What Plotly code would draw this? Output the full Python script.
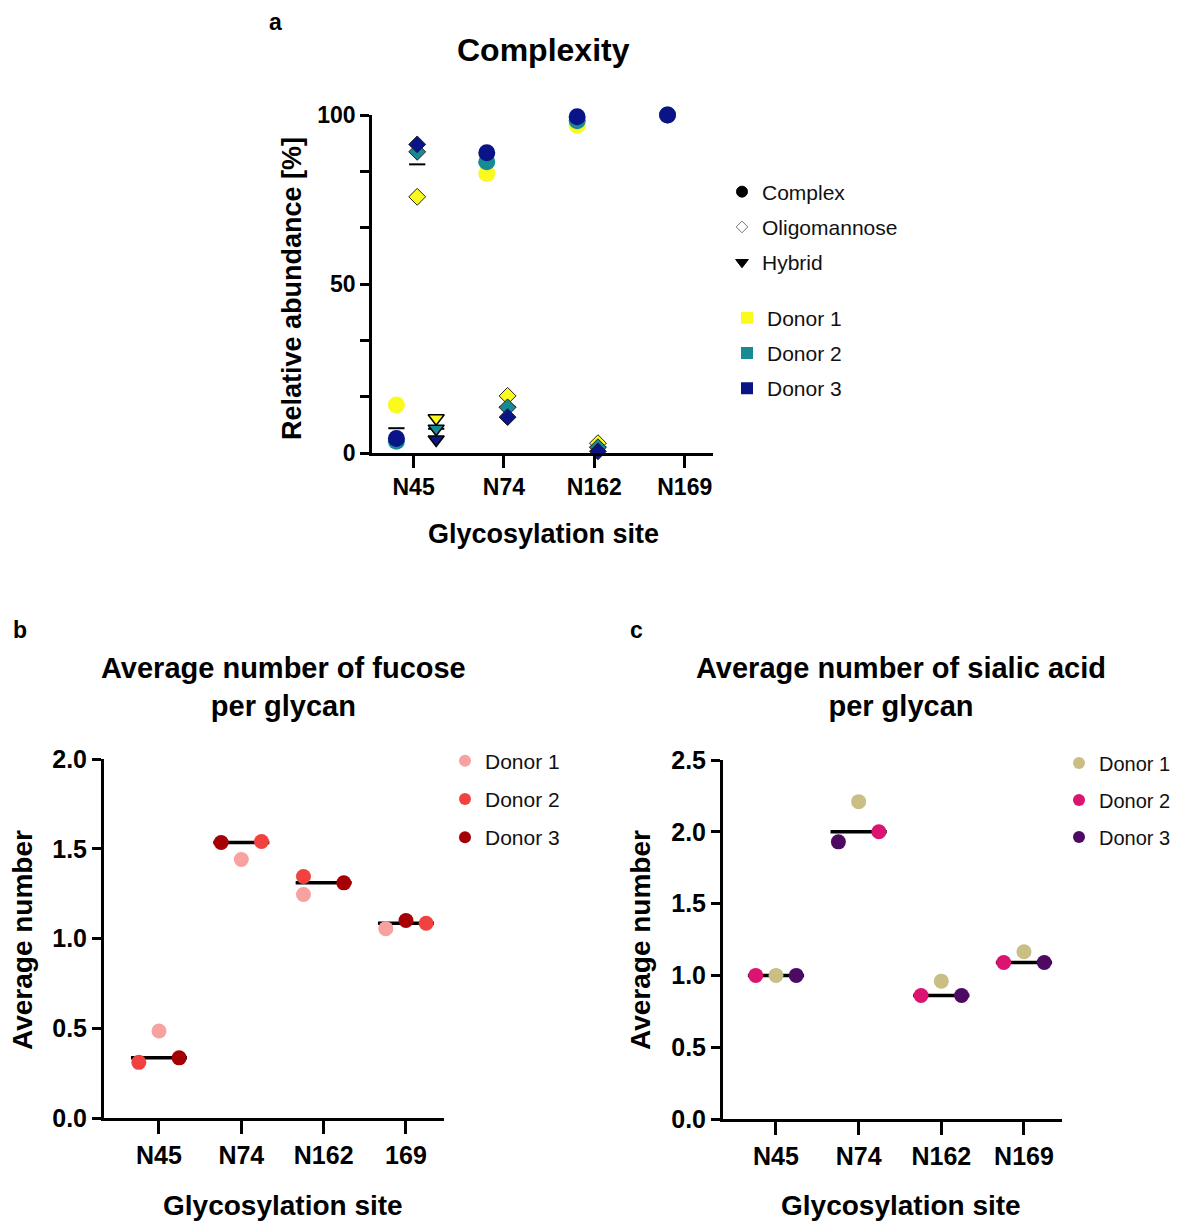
import numpy as np
import plotly.graph_objects as go

# ---------------- data ----------------
sites_a = ["N45", "N74", "N162", "N169"]
complex_d1 = [14.2, 82.7, 97.0, 100.0]
complex_d2 = [3.5, 86.2, 98.3, 100.0]
complex_d3 = [4.3, 88.8, 99.5, 100.0]
oligo_d1 = [75.8, 16.9, 2.9, None]
oligo_d2 = [89.1, 13.5, 1.7, None]
oligo_d3 = [91.3, 10.6, 0.5, None]
hybrid_d1 = [10.3, None, None, None]
hybrid_d2 = [7.2, None, None, None]
hybrid_d3 = [4.0, None, None, None]

sites_b = ["N45", "N74", "N162", "169"]
fuc_d1 = [0.485, 1.44, 1.245, 1.055]
fuc_d2 = [0.31, 1.54, 1.345, 1.085]
fuc_d3 = [0.335, 1.535, 1.31, 1.10]

sites_c = ["N45", "N74", "N162", "N169"]
sia_d1 = [1.0, 2.21, 0.96, 1.165]
sia_d2 = [1.0, 2.0, 0.86, 1.09]
sia_d3 = [1.0, 1.93, 0.86, 1.09]

donors = ["Donor 1", "Donor 2", "Donor 3"]

# ---------------- styles / layout helpers ----------------
OX, OY = 8, 8            # page body margin offset
W, H = 1179 - OX, 1222 - OY
col_a = ["#FAFA1E", "#178A96", "#0A1487"]
col_b = ["#F7A1A1", "#F2423F", "#A50005"]
col_c = ["#C9BE84", "#DA1470", "#4E0A62"]

# horizontal slot of each point inside its site (swarm spreading)
fuc_slot = [[0, 0, -1, -1], [-1, 1, -1, 1], [1, -1, 1, 0]]
sia_slot = [[0, 0, 0, 0], [-1, 1, -1, -1], [1, -1, 1, 1]]
slot_step = 0.245
type_offset = {"complex": -0.19, "oligo": 0.04, "hybrid": 0.25}

FONT = "Liberation Sans, Arial, sans-serif"


def px(x):
    return (x - OX) / W


def py(y):
    return 1 - (y - OY) / H


fig = go.Figure()

# ---------------- panel a ----------------
types = [
    ("complex", [complex_d1, complex_d2, complex_d3], "circle", 17, 0, None),
    ("oligo", [oligo_d1, oligo_d2, oligo_d3], "diamond", 13, 1, "#222222"),
    ("hybrid", [hybrid_d1, hybrid_d2, hybrid_d3], "triangle-down", 14, 1.5, "#000000"),
]
# mean lines
mx, my = [], []
for name, series, *_ in types:
    arr = np.array([[np.nan if v is None else v for v in s] for s in series], dtype=float)
    for i in range(len(sites_a)):
        col = arr[:, i]
        if np.all(np.isnan(col)):
            continue
        m = np.nanmean(col)
        c = i + type_offset[name]
        mx += [c - 0.09, c + 0.09, None]
        my += [m, m, None]
fig.add_trace(go.Scatter(x=mx, y=my, mode="lines", line=dict(color="black", width=2),
                         showlegend=False, hoverinfo="skip", xaxis="x", yaxis="y"))
for name, series, sym, size, lw, lc in types:
    for d, s in enumerate(series):
        xs = [i + type_offset[name] if v is not None else None for i, v in enumerate(s)]
        fig.add_trace(go.Scatter(
            x=xs, y=s, mode="markers", cliponaxis=False,
            marker=dict(symbol=sym, size=size, color=col_a[d],
                        line=dict(width=lw, color=lc if lc else col_a[d])),
            showlegend=False, xaxis="x", yaxis="y"))

# legend entries for panel a
for i, (lab, sym, fc, lc) in enumerate([("Complex", "circle", "black", "black"),
                                         ("Oligomannose", "diamond", "white", "#777777"),
                                         ("Hybrid", "triangle-down", "black", "black")]):
    fig.add_trace(go.Scatter(x=[None], y=[None], mode="markers", name=lab,
                             marker=dict(symbol=sym, size=11 if sym != "diamond" else 9,
                                         color=fc, line=dict(width=1, color=lc)),
                             legend="legend", legendgroup="a" + str(i), xaxis="x", yaxis="y"))
for d in range(3):
    fig.add_trace(go.Scatter(x=[None], y=[None], mode="markers", name=donors[d],
                             marker=dict(symbol="square", size=12, color=col_a[d]),
                             legend="legend2", legendgroup="ad" + str(d), xaxis="x", yaxis="y"))


# ---------------- panels b and c ----------------
def dot_panel(series, slots, colors, sites, xa, ya, leg):
    arr = np.array(series, dtype=float)
    lx, ly = [], []
    for i in range(len(sites)):
        med = float(np.median(arr[:, i]))
        lx += [i - 0.34, i + 0.34, None]
        ly += [med, med, None]
    fig.add_trace(go.Scatter(x=lx, y=ly, mode="lines", line=dict(color="black", width=3.5),
                             showlegend=False, hoverinfo="skip", xaxis=xa, yaxis=ya))
    for d, s in enumerate(series):
        xs = [i + slots[d][i] * slot_step for i in range(len(s))]
        fig.add_trace(go.Scatter(x=xs, y=s, mode="markers", cliponaxis=False,
                                 marker=dict(symbol="circle", size=15, color=colors[d]),
                                 showlegend=False, xaxis=xa, yaxis=ya))
    for d in range(3):
        fig.add_trace(go.Scatter(x=[None], y=[None], mode="markers", name=donors[d],
                                 marker=dict(symbol="circle", size=12, color=colors[d]),
                                 legend=leg, legendgroup=leg + str(d), xaxis=xa, yaxis=ya))


dot_panel([fuc_d1, fuc_d2, fuc_d3], fuc_slot, col_b, sites_b, "x2", "y2", "legend3")
dot_panel([sia_d1, sia_d2, sia_d3], sia_slot, col_c, sites_c, "x3", "y3", "legend4")

# ---------------- axes ----------------
tickfont_a = dict(family=FONT, size=23, color="black", weight="bold")
tickfont_bc = dict(family=FONT, size=25, color="black", weight="bold")


def xaxis(domain, rng, sites, tf, tl, lw):
    return dict(domain=domain, range=rng, tickvals=list(range(len(sites))), ticktext=sites,
                showline=True, linecolor="black", linewidth=lw, ticks="outside", ticklen=tl,
                tickwidth=lw, tickcolor="black", showgrid=False, zeroline=False,
                tickfont=tf, fixedrange=True)


def yaxis(domain, rng, dtick, fmt, tf, lw, anchor):
    return dict(domain=domain, range=rng, dtick=dtick, tick0=0, tickformat=fmt,
                showline=True, linecolor="black", linewidth=lw, ticks="outside", ticklen=9,
                tickwidth=lw, tickcolor="black", showgrid=False, zeroline=False,
                tickfont=tf, anchor=anchor, fixedrange=True)


layout = dict(
    width=W, height=H, autosize=False,
    margin=dict(l=0, r=0, t=0, b=0, pad=0, autoexpand=False),
    paper_bgcolor="white", plot_bgcolor="white",
    font=dict(family=FONT, color="black"),
    xaxis=xaxis([px(372), px(713)], [-0.46, 3.313], sites_a, tickfont_a, 12, 2.5),
    yaxis=yaxis([py(453), py(115)], [0, 100], 50, "d", tickfont_a, 2.5, "x"),
    xaxis2=xaxis([px(104), px(444)], [-0.668, 3.462], sites_b, tickfont_bc, 13, 3),
    yaxis2=yaxis([py(1118), py(759)], [0, 2], 0.5, ".1f", tickfont_bc, 3, "x2"),
    xaxis3=xaxis([px(723), px(1062)], [-0.641, 3.46], sites_c, tickfont_bc, 13, 3),
    yaxis3=yaxis([py(1119), py(760)], [0, 2.5], 0.5, ".1f", tickfont_bc, 3, "x3"),
)
layout["xaxis2"]["anchor"] = "y2"
layout["xaxis3"]["anchor"] = "y3"
layout["xaxis"]["anchor"] = "y"
layout["yaxis"]["minor"] = dict(dtick=50 / 3, tick0=0, ticks="outside", ticklen=9,
                                tickwidth=2.5, tickcolor="black")

legfont = dict(family=FONT, size=21, color="#111111")
common_leg = dict(bgcolor="rgba(0,0,0,0)", borderwidth=0, font=legfont,
                  traceorder="grouped", xanchor="left", yanchor="middle")
layout["legend"] = dict(x=px(722), y=py(227), tracegroupgap=5, **common_leg)
layout["legend2"] = dict(x=px(727), y=py(353), tracegroupgap=5, **common_leg)
layout["legend3"] = dict(x=px(445), y=py(799), tracegroupgap=8, **common_leg)
layout["legend4"] = dict(x=px(1059), y=py(800), tracegroupgap=8,
                         **{**common_leg, "font": dict(family=FONT, size=20, color="#111111")})

fig.update_layout(**layout)


def ann(text, x, y, size, angle=0, yanchor="middle"):
    fig.add_annotation(text=text, x=px(x), y=py(y), xref="paper", yref="paper",
                       xanchor="center", yanchor=yanchor, showarrow=False, textangle=angle,
                       borderpad=0,
                       font=dict(family=FONT, size=size, color="black", weight="bold"))


ann("a", 275, OY, 23, yanchor="top")
ann("Complexity", 543, 50, 32)
ann("Relative abundance [%]", 292, 289, 27, -90)
ann("Glycosylation site", 543, 534, 27)

ann("b", 20, 630, 23)
ann("Average number of fucose<br>per glycan", 283, 687, 29)
ann("Average number", 22, 940, 28, -90)
ann("Glycosylation site", 283, 1205, 28)

ann("c", 636, 630, 23)
ann("Average number of sialic acid<br>per glycan", 901, 687, 29)
ann("Average number", 640, 940, 28, -90)
ann("Glycosylation site", 901, 1205, 28)

fig.write_html("out.html")
